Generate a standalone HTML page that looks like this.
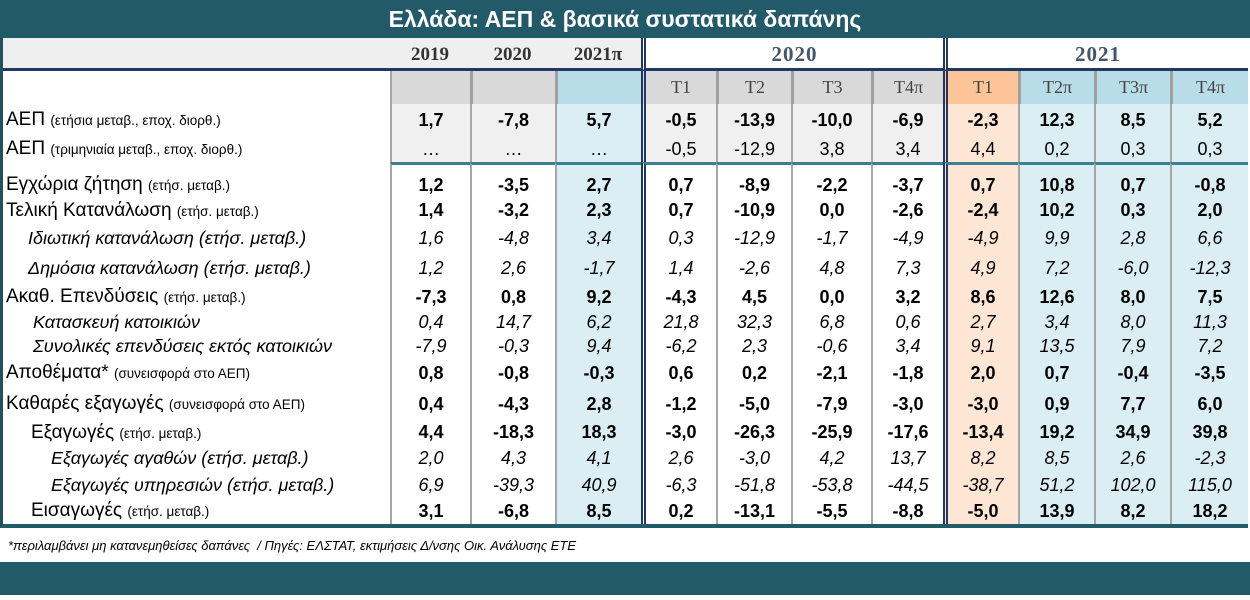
<!DOCTYPE html>
<html><head><meta charset="utf-8">
<style>
*{margin:0;padding:0;box-sizing:border-box}
body{width:1250px;height:600px;background:#fff;position:relative;overflow:hidden;font-family:"Liberation Sans","DejaVu Sans",sans-serif;}
.title{position:absolute;left:0;top:0;width:1250px;height:38px;background:#225a69;color:#fff;font-size:23px;font-weight:bold;text-align:center;line-height:38px;}
table{position:absolute;left:0;top:38px;border-collapse:separate;border-spacing:0;table-layout:fixed;width:1248px;border-left:3px solid #22505e;border-bottom:4px solid #225a69}
td{box-sizing:border-box;text-align:center;white-space:nowrap;overflow:hidden;border-left:2px solid #a6a6a6;font-size:18px;color:#000;padding:0}
td.l{text-align:left;border-left:none;font-size:19px;padding-left:3px;font-weight:normal !important}
td.l small{font-size:13.5px}
td.il{font-size:18px;font-style:italic}
.yr td{height:33px;font-family:"Liberation Serif",serif;font-weight:bold;font-size:19px;color:#333;border-left:none;background:#fff;border-bottom:3px solid #1f3864;padding-top:3px}
.yr td.big{color:#44546a;font-size:21px;letter-spacing:1px}
.yr td.g{background:#efefef}
.q td{height:33px;font-family:"Liberation Serif",serif;font-size:18px;color:#444;border-left:3px solid #a0a0a0}
td.dbl{border-left:5px double #1f3864 !important}
.gy{background:#d9d9d9}.bl{background:#b9dde8}.or{background:#fbc597}
.gl{background:#f0f0f0}.bll{background:#dbeef4}.orl{background:#fde6d4}
tr.b td{font-weight:bold}
tr.i td{font-style:italic}
.sp td{height:10px;border-top:3px solid #3b7f91}
.sp td.l{border-top:none}
.foot{position:absolute;left:8px;top:538px;font-size:13px;font-style:italic;color:#000}
.bar{position:absolute;left:0;top:562px;width:1250px;height:33px;background:#225a69}
</style></head><body>
<div class="title">Ελλάδα: ΑΕΠ &amp; βασικά συστατικά δαπάνης</div>
<table>
<colgroup><col style="width:387px"><col style="width:80px"><col style="width:85px"><col style="width:86px"><col style="width:75px"><col style="width:75px"><col style="width:80px"><col style="width:72px"><col style="width:75px"><col style="width:76px"><col style="width:76px"><col style="width:78px"></colgroup>
<tr class="yr"><td class="l g"></td><td class="g">2019</td><td class="g">2020</td><td class="g">2021π</td><td class="dbl big" colspan="4">2020</td><td class="dbl big" colspan="4">2021</td></tr>
<tr class="q"><td class="l" style="border-left:none"></td><td class="gy" style="border-left:2px solid #a6a6a6"></td><td class="gy"></td><td class="bl"></td><td class="gy dbl">T1</td><td class="gy">T2</td><td class="gy">T3</td><td class="gy">T4π</td><td class="or dbl">T1</td><td class="bl">T2π</td><td class="bl">T3π</td><td class="bl">T4π</td></tr>
<tr class="b" style="height:32px"><td class="l">ΑΕΠ <small>(ετήσια μεταβ., εποχ. διορθ.)</small></td><td class="gl">1,7</td><td class="gl">-7,8</td><td class="bll">5,7</td><td class="gl dbl">-0,5</td><td class="gl">-13,9</td><td class="gl">-10,0</td><td class="gl">-6,9</td><td class="orl dbl">-2,3</td><td class="bll">12,3</td><td class="bll">8,5</td><td class="bll">5,2</td></tr>
<tr style="height:26px"><td class="l">ΑΕΠ <small>(τριμηνιαία μεταβ., εποχ. διορθ.)</small></td><td class="gl">…</td><td class="gl">…</td><td class="bll">…</td><td class="gl dbl">-0,5</td><td class="gl">-12,9</td><td class="gl">3,8</td><td class="gl">3,4</td><td class="orl dbl">4,4</td><td class="bll">0,2</td><td class="bll">0,3</td><td class="bll">0,3</td></tr>
<tr class="sp"><td class="l"></td><td></td><td></td><td class="bll"></td><td class="dbl"></td><td></td><td></td><td></td><td class="orl dbl"></td><td class="bll"></td><td class="bll"></td><td class="bll"></td></tr>
<tr class="b" style="height:26px"><td class="l">Εγχώρια ζήτηση <small>(ετήσ. μεταβ.)</small></td><td>1,2</td><td>-3,5</td><td class="bll">2,7</td><td class="dbl">0,7</td><td>-8,9</td><td>-2,2</td><td>-3,7</td><td class="orl dbl">0,7</td><td class="bll">10,8</td><td class="bll">0,7</td><td class="bll">-0,8</td></tr>
<tr class="b" style="height:25px"><td class="l">Τελική Κατανάλωση <small>(ετήσ. μεταβ.)</small></td><td>1,4</td><td>-3,2</td><td class="bll">2,3</td><td class="dbl">0,7</td><td>-10,9</td><td>0,0</td><td>-2,6</td><td class="orl dbl">-2,4</td><td class="bll">10,2</td><td class="bll">0,3</td><td class="bll">2,0</td></tr>
<tr class="i" style="height:30px"><td class="l il" style="padding-left:25px">Ιδιωτική κατανάλωση (ετήσ. μεταβ.)</td><td>1,6</td><td>-4,8</td><td class="bll">3,4</td><td class="dbl">0,3</td><td>-12,9</td><td>-1,7</td><td>-4,9</td><td class="orl dbl">-4,9</td><td class="bll">9,9</td><td class="bll">2,8</td><td class="bll">6,6</td></tr>
<tr class="i" style="height:31px"><td class="l il" style="padding-left:25px">Δημόσια κατανάλωση (ετήσ. μεταβ.)</td><td>1,2</td><td>2,6</td><td class="bll">-1,7</td><td class="dbl">1,4</td><td>-2,6</td><td>4,8</td><td>7,3</td><td class="orl dbl">4,9</td><td class="bll">7,2</td><td class="bll">-6,0</td><td class="bll">-12,3</td></tr>
<tr class="b" style="height:26px"><td class="l">Ακαθ. Επενδύσεις <small>(ετήσ. μεταβ.)</small></td><td>-7,3</td><td>0,8</td><td class="bll">9,2</td><td class="dbl">-4,3</td><td>4,5</td><td>0,0</td><td>3,2</td><td class="orl dbl">8,6</td><td class="bll">12,6</td><td class="bll">8,0</td><td class="bll">7,5</td></tr>
<tr class="i" style="height:24px"><td class="l il" style="padding-left:30px">Κατασκευή κατοικιών</td><td>0,4</td><td>14,7</td><td class="bll">6,2</td><td class="dbl">21,8</td><td>32,3</td><td>6,8</td><td>0,6</td><td class="orl dbl">2,7</td><td class="bll">3,4</td><td class="bll">8,0</td><td class="bll">11,3</td></tr>
<tr class="i" style="height:24px"><td class="l il" style="padding-left:30px">Συνολικές επενδύσεις εκτός κατοικιών</td><td>-7,9</td><td>-0,3</td><td class="bll">9,4</td><td class="dbl">-6,2</td><td>2,3</td><td>-0,6</td><td>3,4</td><td class="orl dbl">9,1</td><td class="bll">13,5</td><td class="bll">7,9</td><td class="bll">7,2</td></tr>
<tr class="b" style="height:30px"><td class="l">Αποθέματα* <small>(συνεισφορά στο ΑΕΠ)</small></td><td>0,8</td><td>-0,8</td><td class="bll">-0,3</td><td class="dbl">0,6</td><td>0,2</td><td>-2,1</td><td>-1,8</td><td class="orl dbl">2,0</td><td class="bll">0,7</td><td class="bll">-0,4</td><td class="bll">-3,5</td></tr>
<tr class="b" style="height:32px"><td class="l">Καθαρές εξαγωγές <small>(συνεισφορά στο ΑΕΠ)</small></td><td>0,4</td><td>-4,3</td><td class="bll">2,8</td><td class="dbl">-1,2</td><td>-5,0</td><td>-7,9</td><td>-3,0</td><td class="orl dbl">-3,0</td><td class="bll">0,9</td><td class="bll">7,7</td><td class="bll">6,0</td></tr>
<tr class="b" style="height:25px"><td class="l" style="padding-left:28px">Εξαγωγές <small>(ετήσ. μεταβ.)</small></td><td>4,4</td><td>-18,3</td><td class="bll">18,3</td><td class="dbl">-3,0</td><td>-26,3</td><td>-25,9</td><td>-17,6</td><td class="orl dbl">-13,4</td><td class="bll">19,2</td><td class="bll">34,9</td><td class="bll">39,8</td></tr>
<tr class="i" style="height:27px"><td class="l il" style="padding-left:48px">Εξαγωγές αγαθών (ετήσ. μεταβ.)</td><td>2,0</td><td>4,3</td><td class="bll">4,1</td><td class="dbl">2,6</td><td>-3,0</td><td>4,2</td><td>13,7</td><td class="orl dbl">8,2</td><td class="bll">8,5</td><td class="bll">2,6</td><td class="bll">-2,3</td></tr>
<tr class="i" style="height:26px"><td class="l il" style="padding-left:48px">Εξαγωγές υπηρεσιών (ετήσ. μεταβ.)</td><td>6,9</td><td>-39,3</td><td class="bll">40,9</td><td class="dbl">-6,3</td><td>-51,8</td><td>-53,8</td><td>-44,5</td><td class="orl dbl">-38,7</td><td class="bll">51,2</td><td class="bll">102,0</td><td class="bll">115,0</td></tr>
<tr class="b" style="height:26px"><td class="l" style="padding-left:28px">Εισαγωγές <small>(ετήσ. μεταβ.)</small></td><td>3,1</td><td>-6,8</td><td class="bll">8,5</td><td class="dbl">0,2</td><td>-13,1</td><td>-5,5</td><td>-8,8</td><td class="orl dbl">-5,0</td><td class="bll">13,9</td><td class="bll">8,2</td><td class="bll">18,2</td></tr>
</table>
<div class="foot">*περιλαμβάνει μη κατανεμηθείσες δαπάνες &nbsp;/ Πηγές: ΕΛΣΤΑΤ, εκτιμήσεις Δ/νσης Οικ. Ανάλυσης ΕΤΕ</div>
<div class="bar"></div>
</body></html>
